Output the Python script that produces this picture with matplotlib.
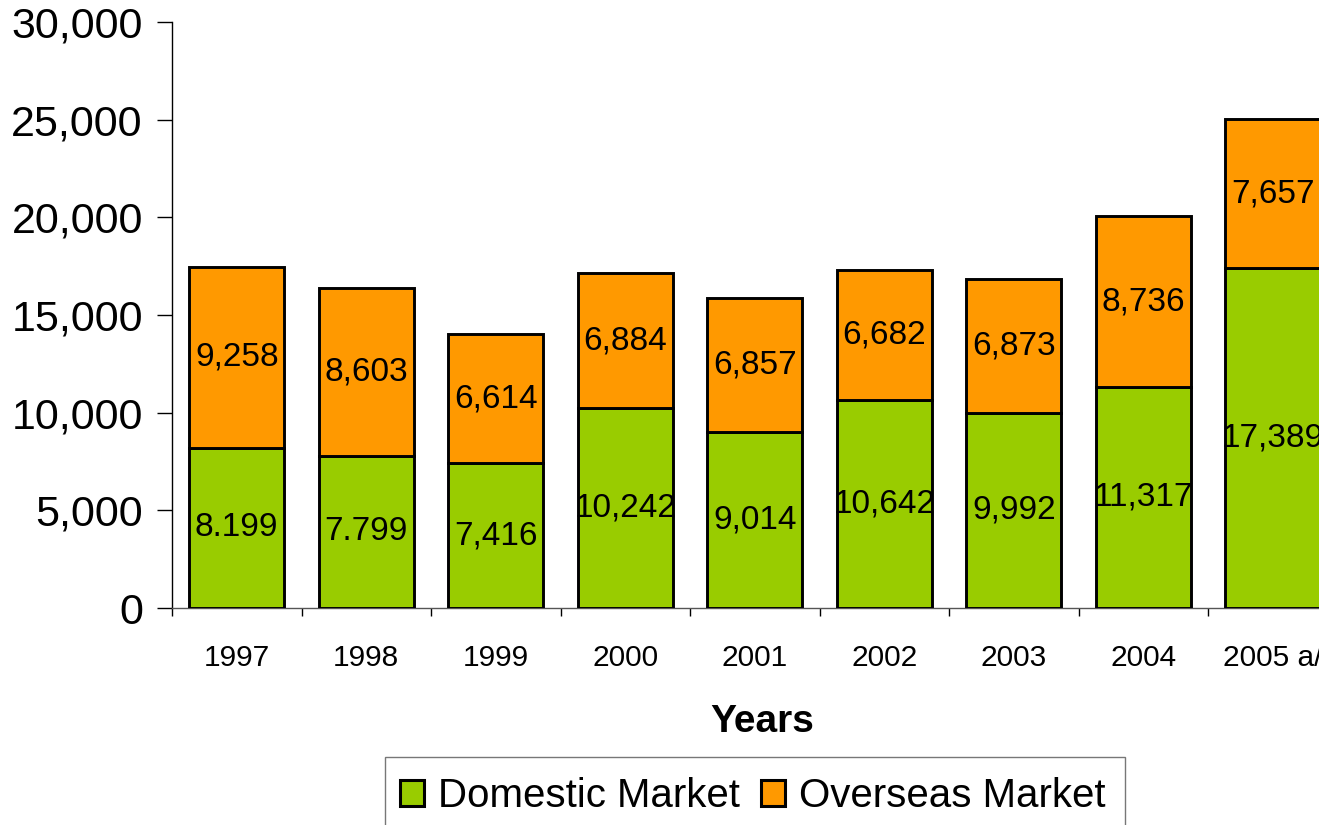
import matplotlib
matplotlib.use("Agg")
import matplotlib.pyplot as plt
from matplotlib.patches import Rectangle
import numpy as np

years = ["1997", "1998", "1999", "2000", "2001", "2002", "2003", "2004", "2005 a/"]
domestic = [8199, 7799, 7416, 10242, 9014, 10642, 9992, 11317, 17389]
overseas = [9258, 8603, 6614, 6884, 6857, 6682, 6873, 8736, 7657]
domestic_labels = ["8.199", "7.799", "7,416", "10,242", "9,014", "10,642", "9,992", "11,317", "17,389"]
overseas_labels = ["9,258", "8,603", "6,614", "6,884", "6,857", "6,682", "6,873", "8,736", "7,657"]
yticks = [0, 5000, 10000, 15000, 20000, 25000, 30000]
ytick_labels = ["0", "5,000", "10,000", "15,000", "20,000", "25,000", "30,000"]

plt.rcParams['font.family'] = ['Liberation Sans', 'DejaVu Sans']

W, H = 1319, 825
fig = plt.figure(figsize=(W / 100, H / 100), dpi=100)
ax_left = 172 / W
ax_bottom = 1 - 608 / H
ax_height = (608 - 22) / H
ax_width = 9 * 129.5 / W
ax = fig.add_axes([ax_left, ax_bottom, ax_width, ax_height])

green = "#99CC00"
orange = "#FF9900"
x = np.arange(len(years))
bw = 0.73
ax.bar(x, domestic, bw, color=green, edgecolor="black", linewidth=2.1, label="Domestic Market", zorder=3)
ax.bar(x, overseas, bw, bottom=domestic, color=orange, edgecolor="black", linewidth=2.1,
       label="Overseas Market", zorder=3)

for i in range(len(years)):
    ax.text(x[i], domestic[i] / 2, domestic_labels[i], ha="center", va="center", fontsize=24, zorder=4)
    ax.text(x[i], domestic[i] + overseas[i] / 2, overseas_labels[i], ha="center", va="center",
            fontsize=24, zorder=4)

ax.set_xlim(-0.5, len(years) - 0.5)
ax.set_ylim(0, 30000)
ax.set_yticks(yticks)
ax.set_yticklabels(ytick_labels, fontsize=31)
ax.tick_params(axis="y", length=11, width=1, pad=10, direction="out")

ax.set_xticks(x)
ax.set_xticklabels(years, fontsize=21.5)
ax.set_xticks(np.arange(len(years) + 1) - 0.5, minor=True)
ax.tick_params(axis="x", which="major", length=0, pad=26)
ax.tick_params(axis="x", which="minor", length=6, width=1, direction="out")

for s in ["top", "right"]:
    ax.spines[s].set_visible(False)
ax.spines["left"].set_linewidth(1)
ax.spines["bottom"].set_linewidth(1)
ax.spines["bottom"].set_color("#555555")

ax.set_xlabel("Years", fontsize=28, fontweight="bold")
ax.xaxis.set_label_coords((762 - 172) / (9 * 129.5), -(722 - 608) / 586)
ax.xaxis.label.set_va("center")

# legend frame (extends past the bottom edge as in the reference)
fig.patches.append(Rectangle((385 / W, -0.05), (1125 - 385) / W, (1 - 757 / H) + 0.05,
                             transform=fig.transFigure, facecolor="white",
                             edgecolor="#777777", linewidth=1, zorder=0))

leg = fig.legend(loc="center left", bbox_to_anchor=(400 / W, 1 - 796 / H), ncol=2, fontsize=29,
                 frameon=False, handlelength=0.6, handleheight=0.6,
                 handletextpad=0.35, columnspacing=0.52, borderpad=0, borderaxespad=0)
for p in leg.get_patches():
    p.set_linewidth(2.2)

fig.savefig("out.png", dpi=100)
